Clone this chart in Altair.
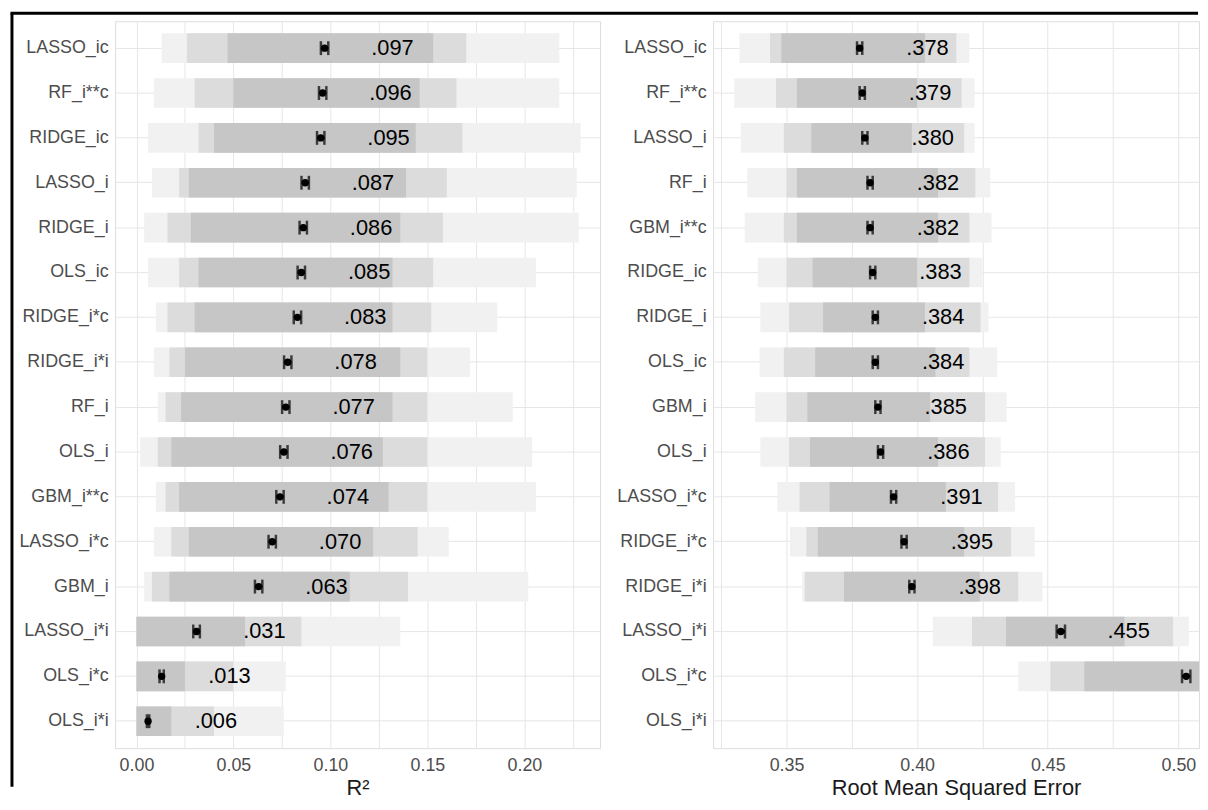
import altair as alt
import pandas as pd

FONT = "Liberation Sans"

# ---------------- R^2 panel ----------------
models_r2 = ["LASSO_ic", "RF_i**c", "RIDGE_ic", "LASSO_i", "RIDGE_i", "OLS_ic",
             "RIDGE_i*c", "RIDGE_i*i", "RF_i", "OLS_i", "GBM_i**c", "LASSO_i*c",
             "GBM_i", "LASSO_i*i", "OLS_i*c", "OLS_i*i"]
mean_r2 = [0.097, 0.096, 0.095, 0.087, 0.086, 0.085, 0.083, 0.078, 0.077, 0.076,
           0.074, 0.070, 0.063, 0.031, 0.013, 0.006]
ci_r2 = [0.0019, 0.0019, 0.0019, 0.0019, 0.0019, 0.0019, 0.0019, 0.0019, 0.0019,
         0.0019, 0.0019, 0.0019, 0.0019, 0.0017, 0.0011, 0.0006]
label_r2 = [".097", ".096", ".095", ".087", ".086", ".085", ".083", ".078", ".077",
            ".076", ".074", ".070", ".063", ".031", ".013", ".006"]
tail_lo_r2 = [0.013, 0.009, 0.006, 0.008, 0.004, 0.006, 0.010, 0.009, 0.011, 0.002,
              0.010, 0.009, 0.004, 0.000, 0.000, 0.000]
tail_hi_r2 = [0.218, 0.218, 0.229, 0.227, 0.228, 0.206, 0.186, 0.172, 0.194, 0.204,
              0.206, 0.161, 0.202, 0.136, 0.077, 0.076]
semi_lo_r2 = [0.026, 0.030, 0.032, 0.022, 0.016, 0.022, 0.016, 0.017, 0.015, 0.011,
              0.015, 0.018, 0.008, 0.000, 0.000, 0.000]
semi_hi_r2 = [0.170, 0.165, 0.168, 0.160, 0.158, 0.153, 0.152, 0.150, 0.150, 0.150,
              0.150, 0.145, 0.140, 0.085, 0.050, 0.040]
core_lo_r2 = [0.047, 0.050, 0.040, 0.027, 0.028, 0.032, 0.030, 0.025, 0.023, 0.018,
              0.022, 0.027, 0.017, 0.000, 0.000, 0.000]
core_hi_r2 = [0.153, 0.146, 0.144, 0.139, 0.136, 0.132, 0.132, 0.136, 0.132, 0.127,
              0.130, 0.122, 0.110, 0.056, 0.025, 0.018]
domain_r2 = [-0.011, 0.239]
ticks_r2 = [0.0, 0.025, 0.05, 0.075, 0.1, 0.125, 0.15, 0.175, 0.2, 0.225]

# ---------------- RMSE panel ----------------
models_rmse = ["LASSO_ic", "RF_i**c", "LASSO_i", "RF_i", "GBM_i**c", "RIDGE_ic",
               "RIDGE_i", "OLS_ic", "GBM_i", "OLS_i", "LASSO_i*c", "RIDGE_i*c",
               "RIDGE_i*i", "LASSO_i*i", "OLS_i*c", "OLS_i*i"]
mean_rmse = [0.378, 0.379, 0.380, 0.382, 0.382, 0.383, 0.384, 0.384, 0.385, 0.386,
             0.391, 0.395, 0.398, 0.455, 0.503, None]
ci_rmse = [0.0010, 0.0010, 0.0010, 0.0010, 0.0010, 0.0010, 0.0010, 0.0010, 0.0010,
           0.0010, 0.0010, 0.0010, 0.0010, 0.0016, 0.0016, None]
label_rmse = [".378", ".379", ".380", ".382", ".382", ".383", ".384", ".384", ".385",
              ".386", ".391", ".395", ".398", ".455", "", None]
tail_lo_rmse = [0.332, 0.330, 0.3325, 0.335, 0.334, 0.339, 0.340, 0.3397, 0.338, 0.340,
                0.3465, 0.3513, 0.356, 0.406, 0.4387, None]
tail_hi_rmse = [0.420, 0.422, 0.422, 0.428, 0.4285, 0.425, 0.4273, 0.4307, 0.4343, 0.432,
                0.4375, 0.445, 0.448, 0.504, 0.560, None]
semi_lo_rmse = [0.3437, 0.346, 0.349, 0.350, 0.349, 0.350, 0.351, 0.349, 0.350, 0.351,
                0.355, 0.3576, 0.357, 0.421, 0.451, None]
semi_hi_rmse = [0.415, 0.417, 0.418, 0.4223, 0.420, 0.420, 0.4243, 0.420, 0.426, 0.426,
                0.431, 0.436, 0.4387, 0.498, 0.560, None]
core_lo_rmse = [0.348, 0.354, 0.3595, 0.354, 0.354, 0.360, 0.364, 0.361, 0.358, 0.359,
                0.3665, 0.362, 0.372, 0.434, 0.464, None]
core_hi_rmse = [0.403, 0.400, 0.398, 0.408, 0.408, 0.400, 0.403, 0.407, 0.405, 0.408,
                0.411, 0.418, 0.424, 0.4794, 0.560, None]
domain_rmse = [0.3219, 0.5079]
ticks_rmse = [0.325, 0.35, 0.375, 0.4, 0.425, 0.45, 0.475, 0.5]

PLOT_H = 733


def panel(models, means, ci, labels, tlo, thi, slo, shi, clo, chi,
          domain, ticks, title, width, clip):
    rows = []
    for m, mu, c, lab, a, b, s1, s2, c1, c2 in zip(models, means, ci, labels,
                                                   tlo, thi, slo, shi, clo, chi):
        if mu is None:
            continue
        rows.append(dict(model=m, mean=mu, lo=mu - c, hi=mu + c, label=lab,
                         tlo=a, thi=b, slo=s1, shi=s2, clo=c1, chi=c2))
    df = pd.DataFrame(rows)

    y = alt.Y("model:N",
              scale=alt.Scale(domain=models, paddingInner=0.34, paddingOuter=0.27),
              axis=alt.Axis(title=None, labelFont=FONT, labelFontSize=18,
                            labelColor="#4d4d4d", labelPadding=3, tickSize=4,
                            tickColor="transparent", domain=False, grid=True,
                            gridColor="#e6e6e6", bandPosition=0.5))
    xscale = alt.Scale(domain=domain, nice=False, zero=False)
    xaxis = alt.Axis(values=ticks, title=title, titleFont=FONT, titleFontSize=22,
                     titleFontWeight="normal", titleColor="#1a1a1a", titlePadding=3,
                     labelFont=FONT, labelFontSize=18, labelColor="#4d4d4d",
                     labelPadding=5, tickSize=4, tickColor="transparent",
                     domain=False, grid=True, gridColor="#e6e6e6",
                     labelExpr="(round(datum.value*40) % 2 == 0) ? format(datum.value, '.2f') : ''")

    def X(field):
        return alt.X(f"{field}:Q", scale=xscale, axis=xaxis)

    base = alt.Chart(df)
    tail = base.mark_bar(color="#f1f1f1", clip=clip).encode(x=X("tlo"), x2="thi", y=y)
    semi = base.mark_bar(color="#dcdcdc", clip=clip).encode(x=X("slo"), x2="shi", y=y)
    core = base.mark_bar(color="#c6c6c6", clip=clip).encode(x=X("clo"), x2="chi", y=y)
    bar = base.mark_rule(color="black", strokeWidth=2.5, clip=clip).encode(
        x=X("lo"), x2="hi", y=y)
    cap_lo = base.mark_tick(color="black", size=14, thickness=2.5, clip=clip).encode(
        x=X("lo"), y=y)
    cap_hi = base.mark_tick(color="black", size=14, thickness=2.5, clip=clip).encode(
        x=X("hi"), y=y)
    pt = base.mark_point(filled=True, shape="circle", size=55, color="black",
                         opacity=1, clip=clip).encode(x=X("mean"), y=y)
    txt = base.mark_text(align="left", baseline="middle", dx=47, fontSize=22,
                         font=FONT, color="black", clip=clip).encode(
        x=X("mean"), y=y, text="label:N")
    return alt.layer(tail, semi, core, bar, cap_lo, cap_hi, pt, txt).properties(
        width=width, height=PLOT_H)


left = panel(models_r2, mean_r2, ci_r2, label_r2, tail_lo_r2, tail_hi_r2,
             semi_lo_r2, semi_hi_r2, core_lo_r2, core_hi_r2,
             domain_r2, ticks_r2, "R²", 489, False)
right = panel(models_rmse, mean_rmse, ci_rmse, label_rmse, tail_lo_rmse, tail_hi_rmse,
              semi_lo_rmse, semi_hi_rmse, core_lo_rmse, core_hi_rmse,
              domain_rmse, ticks_rmse, "Root Mean Squared Error", 490, True)

# figure frame (left and top edges)
frame_df = pd.DataFrame({"k": [0]})
frame_left = alt.Chart(frame_df).mark_rule(color="black", strokeWidth=3).encode(
    x=alt.value(-104), y=alt.value(-8), y2=alt.value(772))
frame_top = alt.Chart(frame_df).mark_rule(color="black", strokeWidth=3).encode(
    x=alt.value(-105.5), x2=alt.value(1092), y=alt.value(-8))

left_full = alt.layer(left, frame_left, frame_top)

chart = alt.hconcat(left_full, right, spacing=114, bounds="flush").properties(
    padding={"left": 0, "top": 0, "right": 0, "bottom": 0}
).configure_view(stroke="#c4c4c4", strokeWidth=1).configure(background="white")

chart.save("out.html", embed_options={"renderer": "svg", "actions": False})
